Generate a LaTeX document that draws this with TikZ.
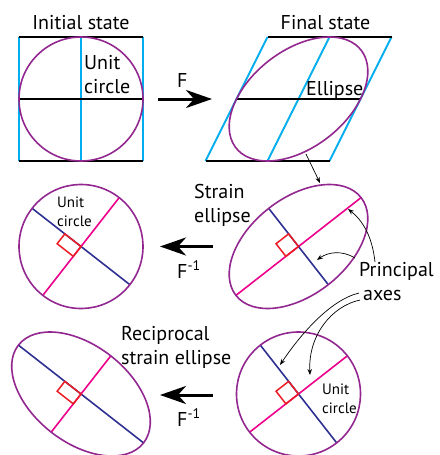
\documentclass[tikz,border=0pt]{standalone}
\usepackage{fontspec}
\setsansfont{PT Sans}
\usetikzlibrary{arrows.meta}
\definecolor{cRim}{RGB}{146,39,143}
\definecolor{cMaj}{RGB}{236,0,140}
\definecolor{cMin}{RGB}{46,49,146}
\definecolor{cShear}{RGB}{0,174,239}
\definecolor{cRight}{RGB}{237,28,36}

\begin{document}
\begin{tikzpicture}[
  x=1pt,y=1pt,
  lbl/.style  ={font=\sffamily\fontsize{20}{24}\selectfont, inner sep=0pt},
  sml/.style  ={font=\sffamily\fontsize{15}{19}\selectfont, inner sep=0pt},
  frame/.style={draw=black,   line width=2pt},
  shear/.style={draw=cShear,  line width=2pt},
  rim/.style  ={draw=cRim,    line width=1.6pt},
  pinkax/.style={draw=cMaj,   line width=1.6pt},
  blueax/.style={draw=cMin,   line width=1.6pt},
  rang/.style ={draw=cRight,  line width=1.5pt},
  map/.style  ={-{Stealth[length=26pt,width=18pt,inset=8pt]}, line width=3pt},
  lead/.style ={-{Stealth[length=6pt,width=4.5pt]}, line width=0.7pt},
]
\useasboundingbox (0,0) rectangle (439,-455);

% ----- geometry --------------------------------------------------------
\def\R{62}\def\aM{79.4}\def\am{48.4}\def\ang{38}
\def\xL{81}\def\xR{298.5}
\def\yT{-99}\def\yM{-246.5}\def\yB{-394}
\def\sq{16}\def\sqL{20.5}\def\sqS{12.5}

% ----- initial state ---------------------------------------------------
\begin{scope}[shift={(\xL,\yT)}]
  \draw[shear] (-\R,-\R) -- (-\R,\R);
  \draw[shear] (0,-\R)   -- (0,\R);
  \draw[shear] (\R,-\R)  -- (\R,\R);
  \draw[frame] (-\R,\R)  -- (\R,\R);
  \draw[frame] (-\R,0)   -- (\R,0);
  \draw[frame] (-\R,-\R) -- (\R,-\R);
  \draw[rim] (0,0) circle (\R);
\end{scope}
\node[lbl,anchor=base] (init) at (\xL,-29) {Initial state};
\node[lbl,anchor=north west,align=left] (ucA) at (84,-55.5) {Unit\\circle};

% ----- final state (sheared) -------------------------------------------
\begin{scope}[shift={(\xR,\yT)},xslant=0.5]
  \draw[shear] (-\R,-\R) -- (-\R,\R);
  \draw[shear] (0,-\R)   -- (0,\R);
  \draw[shear] (\R,-\R)  -- (\R,\R);
  \draw[frame] (-\R,\R)  -- (\R,\R);
  \draw[frame] (-\R,0)   -- (\R,0);
  \draw[frame] (-\R,-\R) -- (\R,-\R);
  \draw[rim] (0,0) circle (\R);
\end{scope}
\node[lbl,anchor=base] (final) at (325.5,-29) {Final state};
\node[lbl,anchor=base west] (ell) at (306,-95) {Ellipse};

% ----- F ---------------------------------------------------------------
\coordinate (fA) at (158,\yT);
\coordinate (fB) at (212,\yT);
\draw[map] (fA) -- (fB);
\node[lbl,anchor=base west] (fF) at (177,-87) {F};

% ----- unit circle, middle left ----------------------------------------
\begin{scope}[shift={(\xL,\yM)},rotate=-\ang]
  \draw[blueax] (-\R,0) -- (\R,0);
  \draw[pinkax] (0,-\R) -- (0,\R);
  \draw[rang] (0,0) -- (-\sqL,0) -- (-\sqL,-\sqS) -- (0,-\sqS) -- cycle;
  \draw[rim] (0,0) circle (\R);
\end{scope}
\node[sml,anchor=north west,align=left] (ucB) at (57,-197) {Unit\\circle};

% ----- strain ellipse, middle right ------------------------------------
\begin{scope}[shift={(\xR,\yM)},rotate=\ang]
  \draw[pinkax] (-\aM,0) -- (\aM,0);
  \draw[blueax] (0,-\am) -- (0,\am);
  \draw[rang] (0,0) -- (-\sq,0) -- (-\sq,\sq) -- (0,\sq) -- cycle;
  \draw[rim] (0,0) ellipse [x radius=\aM, y radius=\am];
\end{scope}
\node[lbl,anchor=north west,align=left] (se) at (194,-184.5) {Strain\\ellipse};

\coordinate (fm1) at (213,\yM);
\coordinate (fm2) at (160,\yM);
\draw[map] (fm1) -- (fm2);
\node[lbl,anchor=base west] (fiA) at (177,-278) {F\textsuperscript{-1}};

% ----- reciprocal strain ellipse, bottom left --------------------------
\begin{scope}[shift={(\xL,\yB)},rotate=-\ang]
  \draw[blueax] (-\aM,0) -- (\aM,0);
  \draw[pinkax] (0,-\am) -- (0,\am);
  \draw[rang] (0,0) -- (-\sqL,0) -- (-\sqL,-\sqS) -- (0,-\sqS) -- cycle;
  \draw[rim] (0,0) ellipse [x radius=\aM, y radius=\am];
\end{scope}
\node[lbl,anchor=north west,align=left] (rse) at (121,-326.5) {Reciprocal\\strain ellipse};

% ----- unit circle, bottom right ---------------------------------------
\begin{scope}[shift={(\xR,\yB)},rotate=\ang]
  \draw[pinkax] (-\R,0) -- (\R,0);
  \draw[blueax] (0,-\R) -- (0,\R);
  \draw[rang] (0,0) -- (-\sq,0) -- (-\sq,\sq) -- (0,\sq) -- cycle;
  \draw[rim] (0,0) circle (\R);
\end{scope}
\node[sml,anchor=north west,align=left] (ucC) at (322,-384) {Unit\\circle};

\coordinate (fm3) at (213,-395);
\coordinate (fm4) at (160,-395);
\draw[map] (fm3) -- (fm4);
\node[lbl,anchor=base west] (fiB) at (177,-426) {F\textsuperscript{-1}};

% ----- principal axes and leaders --------------------------------------
\node[lbl,anchor=north west,align=left] (pa) at (359,-262.5) {Principal\\\hspace{4pt}axes};

\coordinate (eS) at (306,-154);
\coordinate (eT) at (320,-183);
\draw[lead] (eS) -- (eT);

\coordinate (p1) at (375,-262);  \coordinate (t1) at (348,-209);
\coordinate (p2) at (355,-258);  \coordinate (t2) at (317,-260);
\coordinate (p3) at (359,-293);  \coordinate (t3) at (280,-365);
\coordinate (p4) at (360,-300);  \coordinate (t4) at (310,-375);
\draw[lead] (p1) .. controls (372,-235) and (362,-220) .. (t1);
\draw[lead] (p2) .. controls (342,-250) and (328,-252) .. (t2);
\draw[lead] (p3) .. controls (330,-300) and (300,-335) .. (t3);
\draw[lead] (p4) .. controls (332,-306) and (308,-335) .. (t4);

\end{tikzpicture}
\end{document}
